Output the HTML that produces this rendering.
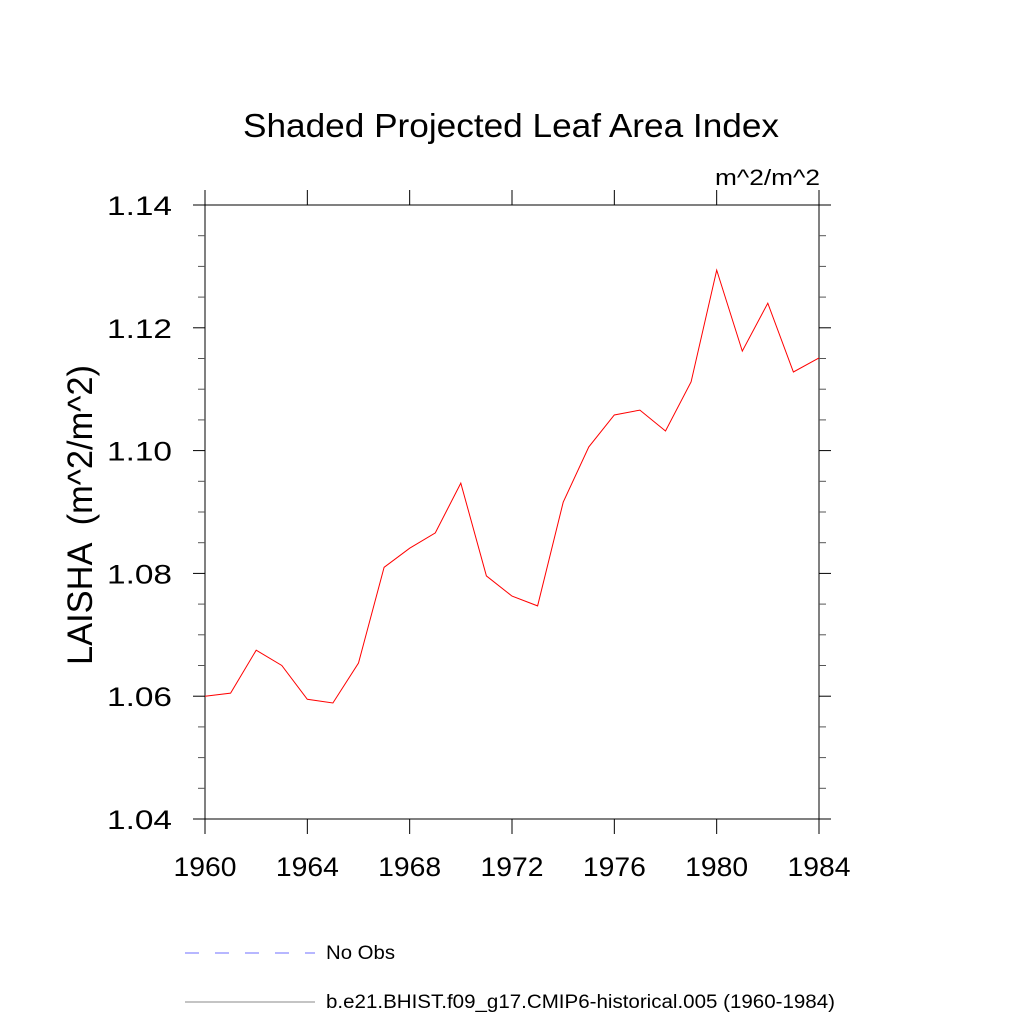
<!DOCTYPE html>
<html><head><meta charset="utf-8"><style>body{margin:0;background:#fff}svg{display:block;font-family:"Liberation Sans",sans-serif}</style></head>
<body>
<svg id="chart" width="1024" height="1024" viewBox="0 0 1024 1024">
<text x="243" y="137" font-size="33" textLength="536" lengthAdjust="spacingAndGlyphs">Shaded Projected Leaf Area Index</text>
<text x="715" y="185" font-size="22" textLength="105" lengthAdjust="spacingAndGlyphs">m^2/m^2</text>
<text transform="translate(92,665) rotate(-90)" font-size="35" textLength="300" lengthAdjust="spacingAndGlyphs" xml:space="preserve">LAISHA  (m^2/m^2)</text>
<g id="axes"></g>
<g id="series"></g>
<g>
<line x1="185" y1="953" x2="315" y2="953" stroke="#6f6fff" stroke-width="1" stroke-dasharray="14,16"/>
<text x="326" y="959" font-size="19" textLength="69" lengthAdjust="spacingAndGlyphs">No Obs</text>
<line x1="185" y1="1002" x2="315" y2="1002" stroke="#888" stroke-width="1"/>
<text x="326" y="1008" font-size="19" textLength="509" lengthAdjust="spacingAndGlyphs">b.e21.BHIST.f09_g17.CMIP6-historical.005 (1960-1984)</text>
</g>
</svg>
<script>
const years=[1960,1961,1962,1963,1964,1965,1966,1967,1968,1969,1970,1971,1972,1973,1974,1975,1976,1977,1978,1979,1980,1981,1982,1983,1984];
const laisha=[1.0600,1.0605,1.0675,1.0650,1.0595,1.0589,1.0654,1.0810,1.0841,1.0866,1.0947,1.0796,1.0763,1.0747,1.0916,1.1006,1.1058,1.1066,1.1032,1.1112,1.1294,1.1162,1.1240,1.1128,1.1151];
const xTicks=[1960,1964,1968,1972,1976,1980,1984];
const yTicks=[1.04,1.06,1.08,1.10,1.12,1.14];
const yMinor=[1.045,1.05,1.055,1.065,1.07,1.075,1.085,1.09,1.095,1.105,1.11,1.115,1.125,1.13,1.135];
const L=205,R=819,T=205,B=819;
const xs=v=>L+(v-1960)/(1984-1960)*(R-L);
const ys=v=>B-(v-1.04)/(1.14-1.04)*(B-T);
const NS="http://www.w3.org/2000/svg";
const ax=document.getElementById('axes');
function mk(tag,attrs,parent){const e=document.createElementNS(NS,tag);for(const k in attrs)e.setAttribute(k,attrs[k]);parent.appendChild(e);return e;}
const frame=mk('rect',{x:L,y:T,width:R-L,height:B-T,fill:'none',stroke:'#000','stroke-width':1},ax);


xTicks.forEach(v=>{const x=xs(v);
 const t1=mk('line',{x1:x,y1:B,x2:x,y2:B+15,stroke:'#000'},ax);
 
 
 const t2=mk('line',{x1:x,y1:T,x2:x,y2:T-15,stroke:'#000'},ax);
 
 
 const tx=mk('text',{x:x-31.5,y:876,'font-size':27,textLength:63,lengthAdjust:'spacingAndGlyphs'},ax);tx.textContent=v;
 
 
});
yTicks.forEach(v=>{const y=ys(v);
 const t1=mk('line',{x1:L-12,y1:y,x2:L,y2:y,stroke:'#000'},ax);
 
 
 const t2=mk('line',{x1:R,y1:y,x2:R+12,y2:y,stroke:'#000'},ax);
 
 
 const tx=mk('text',{x:107,y:y+10,'font-size':27,textLength:65,lengthAdjust:'spacingAndGlyphs'},ax);tx.textContent=v.toFixed(2);
 
 
});
yMinor.forEach(v=>{const y=ys(v);
 const t1=mk('line',{x1:L-7,y1:y,x2:L,y2:y,stroke:'#555'},ax);
 
 
 const t2=mk('line',{x1:R,y1:y,x2:R+7,y2:y,stroke:'#555'},ax);
 
 
});
const pts=years.map((yr,i)=>xs(yr).toFixed(1)+','+ys(laisha[i]).toFixed(1)).join(' ');
const line=mk('polyline',{points:pts,fill:'none',stroke:'#ff0000','stroke-width':1},document.getElementById('series'));


</script>
</body></html>
